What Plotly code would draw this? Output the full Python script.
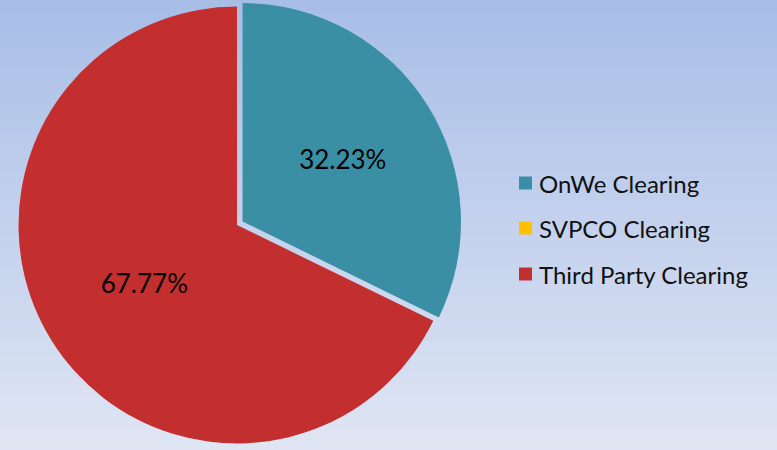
import plotly.graph_objects as go

labels = ["OnWe Clearing", "SVPCO Clearing", "Third Party Clearing"]
values = [32.23, 0.0, 67.77]
colors = ["#3a8fa4", "#ffc000", "#c32e2f"]
pull = [0.03, 0, 0]

FONT = "Lato, 'Gill Sans', 'Open Sans', sans-serif"

fig = go.Figure()
fig.add_trace(go.Pie(
    labels=labels, values=values, sort=False, direction="clockwise", rotation=0,
    marker=dict(colors=colors, line=dict(width=0)),
    pull=pull,
    texttemplate="%{value:.2f}%", textposition="inside", insidetextorientation="horizontal",
    textfont=dict(family=FONT, size=26, color="black"),
    domain=dict(x=[0.0, 0.61], y=[0, 1]),
    showlegend=False, hoverinfo="label+percent",
))

# background gradient (decorative)
top = (168, 190, 231)
bot = (223, 229, 243)
n = 90
shapes = []
for i in range(n):
    t = i / (n - 1)
    c = tuple(round(top[k] + (bot[k] - top[k]) * t) for k in range(3))
    shapes.append(dict(type="rect", xref="paper", yref="paper", x0=0, x1=1,
                       y1=1 - i / n, y0=1 - (i + 1) / n - 0.002, line=dict(width=0),
                       fillcolor="rgb(%d,%d,%d)" % c, layer="below"))

# legend drawn from labels/colors
W, H = 777, 450
lx0, lx1 = 519, 532
ycs = [183, 228, 274]
annotations = []
for lab, col, yc in zip(labels, colors, ycs):
    shapes.append(dict(type="rect", xref="paper", yref="paper",
                       x0=lx0 / W, x1=lx1 / W, y0=1 - (yc + 6.5) / H, y1=1 - (yc - 6.5) / H,
                       fillcolor=col, line=dict(width=0)))
    annotations.append(dict(text=lab, xref="paper", yref="paper", x=537 / W, y=1 - yc / H,
                            xanchor="left", yanchor="middle", showarrow=False,
                            font=dict(family=FONT, size=24, color="#111111")))

fig.update_layout(
    width=W, height=H, margin=dict(l=0, r=0, t=0, b=0),
    paper_bgcolor="rgb(200,212,238)", plot_bgcolor="rgba(0,0,0,0)",
    shapes=shapes, annotations=annotations, showlegend=False,
)
fig.write_html("out.html", config={"displayModeBar": False},
               post_script="document.body.style.margin='0';")
